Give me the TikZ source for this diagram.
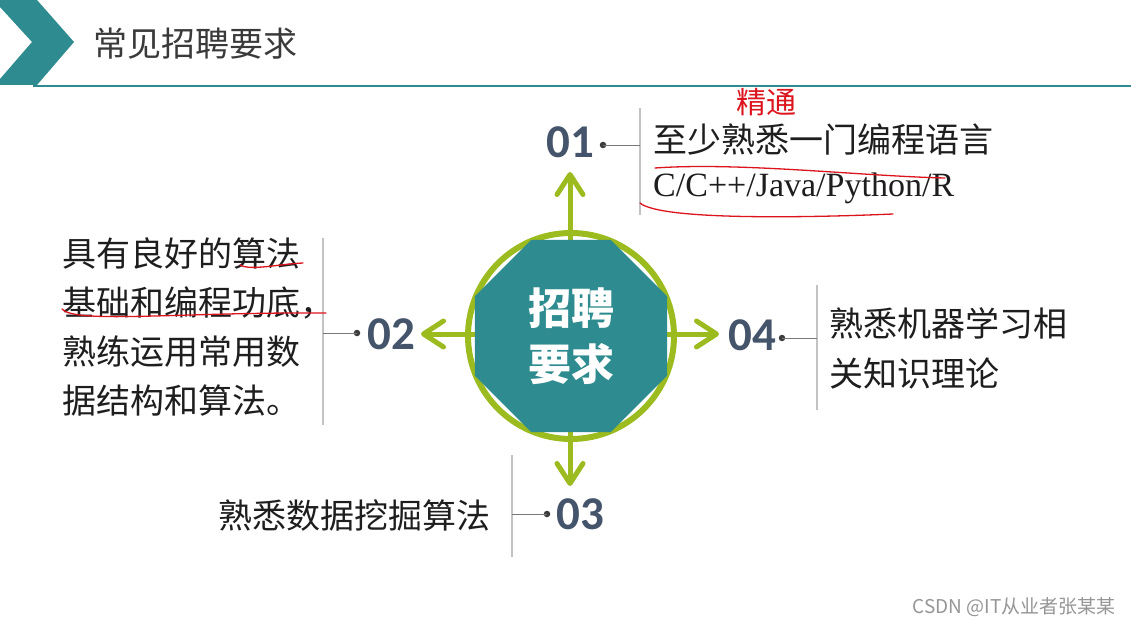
\documentclass[tikz,border=0pt]{standalone}
\usepackage{fontspec}
\setmainfont{Liberation Serif}
\newfontfamily\cjk{Noto Sans CJK SC}
\newfontfamily\numfont{Carlito}
\usetikzlibrary{arrows.meta,shapes.geometric}
\definecolor{tealc}{RGB}{46,139,143}
\definecolor{ringc}{RGB}{155,187,30}
\definecolor{numc}{RGB}{68,84,106}
\definecolor{glc}{RGB}{195,195,195}
\definecolor{connc}{RGB}{120,120,120}
\definecolor{dotc}{RGB}{60,60,60}
\definecolor{titlec}{RGB}{58,58,58}
\definecolor{txtc}{RGB}{30,30,30}
\definecolor{redc}{RGB}{220,20,30}
\definecolor{wmc}{RGB}{150,150,150}
\tikzset{
  arr/.style={ringc, line width=5pt, line cap=round, line join=round,
    -{Straight Barb[length=20pt,width=26pt,line cap=round,line join=round]}},
  num/.style={font=\numfont\bfseries\fontsize{47}{47}\selectfont, text=numc, inner sep=0pt},
  dotn/.style={circle, fill=dotc, inner sep=0pt, minimum size=6.5pt},
  vline/.style={glc, line width=1.3pt},
  conn/.style={connc, line width=0.9pt},
  body/.style={font=\cjk\fontsize{34}{49}\selectfont, text=txtc, inner sep=0pt, align=left},
  redline/.style={redc, line width=1.3pt, line cap=round}
}
\begin{document}
\begin{tikzpicture}[x=1pt,y=-1pt]
\useasboundingbox (0,0) rectangle (1131,628);
\fill[white] (0,0) rectangle (1131,628);

% header
\fill[tealc] (0,0) -- (37,0) -- (74,42) -- (37,85) -- (0,85) -- (0,79) -- (32,42) -- (0,7) -- cycle;
\draw[tealc, line width=2pt] (33,86) -- (1131,86);
\node[anchor=west, inner sep=0pt, font=\cjk\fontsize{34}{34}\selectfont, text=titlec] (title) at (93,44) {常见招聘要求};

% centre
\coordinate (c) at (571,336);
\coordinate (tipN) at (570,172);
\coordinate (tipS) at (570,486);
\coordinate (tipW) at (421,334);
\coordinate (tipE) at (719,334);
\draw[arr] (570,336) -- (tipN);
\draw[arr] (570,336) -- (tipS);
\draw[arr] (571,334) -- (tipW);
\draw[arr] (571,334) -- (tipE);
\draw[ringc, line width=6pt] (c) circle (103);
\node[regular polygon, regular polygon sides=8, minimum size=208pt, inner sep=0pt, fill=tealc,
      text=white, align=center, font=\cjk\bfseries\fontsize{43}{56}\selectfont] (ctr) at (c) {招聘\\要求};

% 01
\node[num] (n1) at (570,142) {01};
\node[dotn] (d1) at (603,145) {};
\coordinate (v1t) at (640,108);
\coordinate (v1b) at (640,215);
\draw[vline] (v1t) -- (v1b);
\draw[conn] (d1.center) -- (v1t |- d1);
\node[anchor=west, font=\cjk\fontsize{34}{34}\selectfont, text=txtc, inner sep=0pt] (t1a) at (653,139) {至少熟悉一门编程语言};
\node[anchor=west, font=\fontsize{34}{34}\selectfont, text=txtc, inner sep=0pt] (t1b) at (653,188) {C/C++/Java/Python/R};

% 02
\node[num] (n2) at (391,334) {02};
\node[dotn] (d2) at (357,333) {};
\coordinate (v2t) at (323,238);
\coordinate (v2b) at (323,425);
\draw[vline] (v2t) -- (v2b);
\draw[conn] (d2.center) -- (v2t |- d2);
\node[body, anchor=west] (t2) at (62,327) {具有良好的算法\\基础和编程功底，\\熟练运用常用数\\据结构和算法。};

% 04
\node[num] (n4) at (752,335) {04};
\node[dotn] (d4) at (782,338) {};
\coordinate (v4t) at (817,285);
\coordinate (v4b) at (817,410);
\draw[vline] (v4t) -- (v4b);
\draw[conn] (d4.center) -- (v4t |- d4);
\node[body, anchor=west, font=\cjk\fontsize{34}{50}\selectfont] (t4) at (829,348) {熟悉机器学习相\\关知识理论};

% 03
\node[num] (n3) at (580,514) {03};
\node[dotn] (d3) at (547,514) {};
\coordinate (v3t) at (512,455);
\coordinate (v3b) at (512,557);
\draw[vline] (v3t) -- (v3b);
\draw[conn] (d3.center) -- (v3t |- d3);
\node[body, anchor=east] (t3) at (491,515) {熟悉数据挖掘算法};

% red annotations
\node[font=\cjk\fontsize{30}{30}\selectfont, text=redc, inner sep=0pt] (jt) at (766,102) {精通};
\draw[redline] (655,168) .. controls (740,162) and (860,176) .. (945,178);
\draw[redline] (640,203) .. controls (660,220) and (800,218) .. (893,214);
\draw[redline] (240,265) .. controls (250,271) and (280,264) .. (303,263);
\draw[redline] (62,309) .. controls (75,324) and (180,312) .. (326,313);

% watermark
\node[anchor=east, font=\cjk\fontsize{19}{19}\selectfont, text=wmc, inner sep=0pt] (wm) at (1116,607) {CSDN @IT从业者张某某};
\end{tikzpicture}
\end{document}
